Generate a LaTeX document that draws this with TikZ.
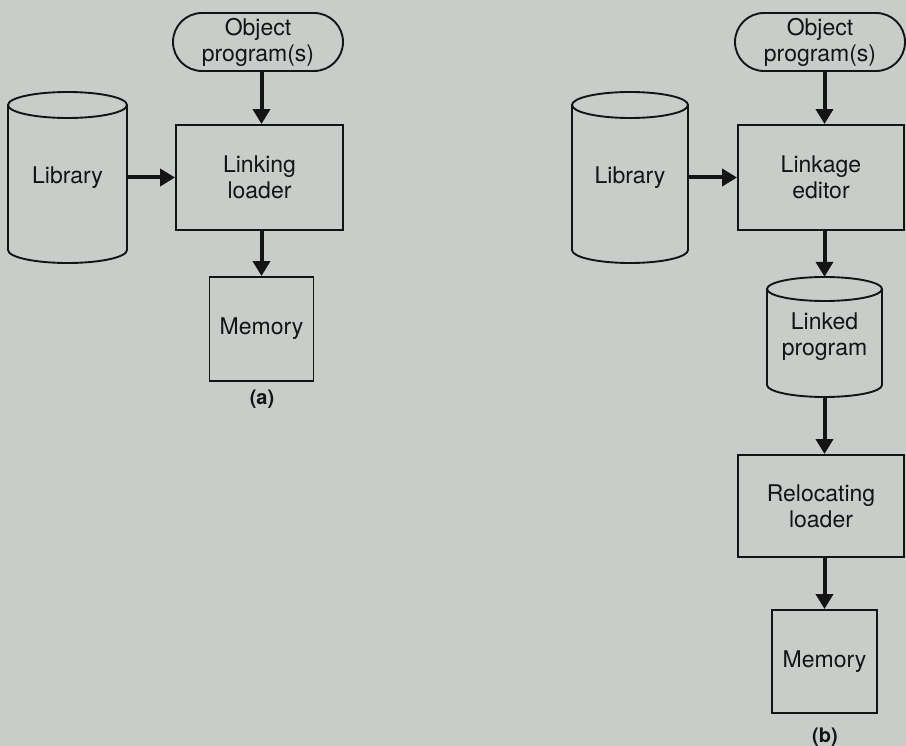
\documentclass[tikz,border=0pt]{standalone}
\usepackage{fontspec}
\setmainfont{TeX Gyre Heros}
\usetikzlibrary{arrows.meta}
\definecolor{bg}{RGB}{200,205,202}
\definecolor{ink}{RGB}{20,20,20}
\newcommand\cylshape[5]{% cx, top, bottom, rx, ry
  \draw[outline] (#1-#4,#2+#5) -- (#1-#4,#3-#5)
    arc[start angle=180, end angle=360, x radius=#4pt, y radius=#5pt]
    -- (#1+#4,#2+#5);
  \draw[outline] (#1,#2+#5) ellipse[x radius=#4pt, y radius=#5pt];}
\begin{document}
\begin{tikzpicture}[x=1pt,y=-1pt,
  outline/.style={draw=ink, line width=1.9pt},
  txt/.style={inner sep=0pt, align=center, text=ink, font=\fontsize{23}{26}\selectfont},
  box/.style={txt, outline},
  pill/.style={box, minimum width=170pt, minimum height=58pt, rounded corners=29pt},
  lbl/.style={inner sep=0pt, text=ink, font=\fontsize{20}{22}\selectfont\bfseries},
  arr/.style={draw=ink, line width=4pt, -{Triangle[length=15pt,width=17pt]}}]
\fill[bg] (0,0) rectangle (906,746);
\useasboundingbox (0,0) rectangle (906,746);

% ---------- (a) ----------
\node[pill] (objA) at (258,42) {Object\\program(s)};
\node[box, minimum width=167pt, minimum height=105pt] (linkA) at (259.5,177.5) {Linking\\loader};
\node[box, minimum width=104pt, minimum height=104pt] (memA) at (261.5,329) {Memory};
\node[lbl] (lblA) at (262,399) {(a)};
\cylshape{67.5}{92}{263}{59.5}{13}
\node[txt, minimum width=119pt, minimum height=171pt] (libA) at (67.5,177.5) {Library};

\draw[arr] (objA.south -| memA) -- (linkA.north -| memA);
\draw[arr] (libA.east |- linkA) -- (linkA.west);
\draw[arr] (linkA.south -| memA) -- (memA.north);

% ---------- (b) ----------
\node[pill] (objB) at (820,42) {Object\\program(s)};
\node[box, minimum width=166pt, minimum height=105pt] (linkB) at (821,177.5) {Linkage\\editor};
\cylshape{824.5}{277}{397}{57.5}{12}
\node[txt, minimum width=115pt, minimum height=120pt] (lnkd) at (824.5,337) {Linked\\program};
\node[box, minimum width=166pt, minimum height=102pt] (relB) at (821,506) {Relocating\\loader};
\node[box, minimum width=105pt, minimum height=103pt] (memB) at (824.5,661.5) {Memory};
\node[lbl] (lblB) at (825,737) {(b)};
\cylshape{630}{92}{263}{58}{13}
\node[txt, minimum width=116pt, minimum height=171pt] (libB) at (630,177.5) {Library};

\draw[arr] (objB.south -| memB) -- (linkB.north -| memB);
\draw[arr] (libB.east |- linkB) -- (linkB.west);
\draw[arr] (linkB.south -| memB) -- (lnkd.north);
\draw[arr] (lnkd.south) -- (relB.north -| memB);
\draw[arr] (relB.south -| memB) -- (memB.north);
\end{tikzpicture}
\end{document}
